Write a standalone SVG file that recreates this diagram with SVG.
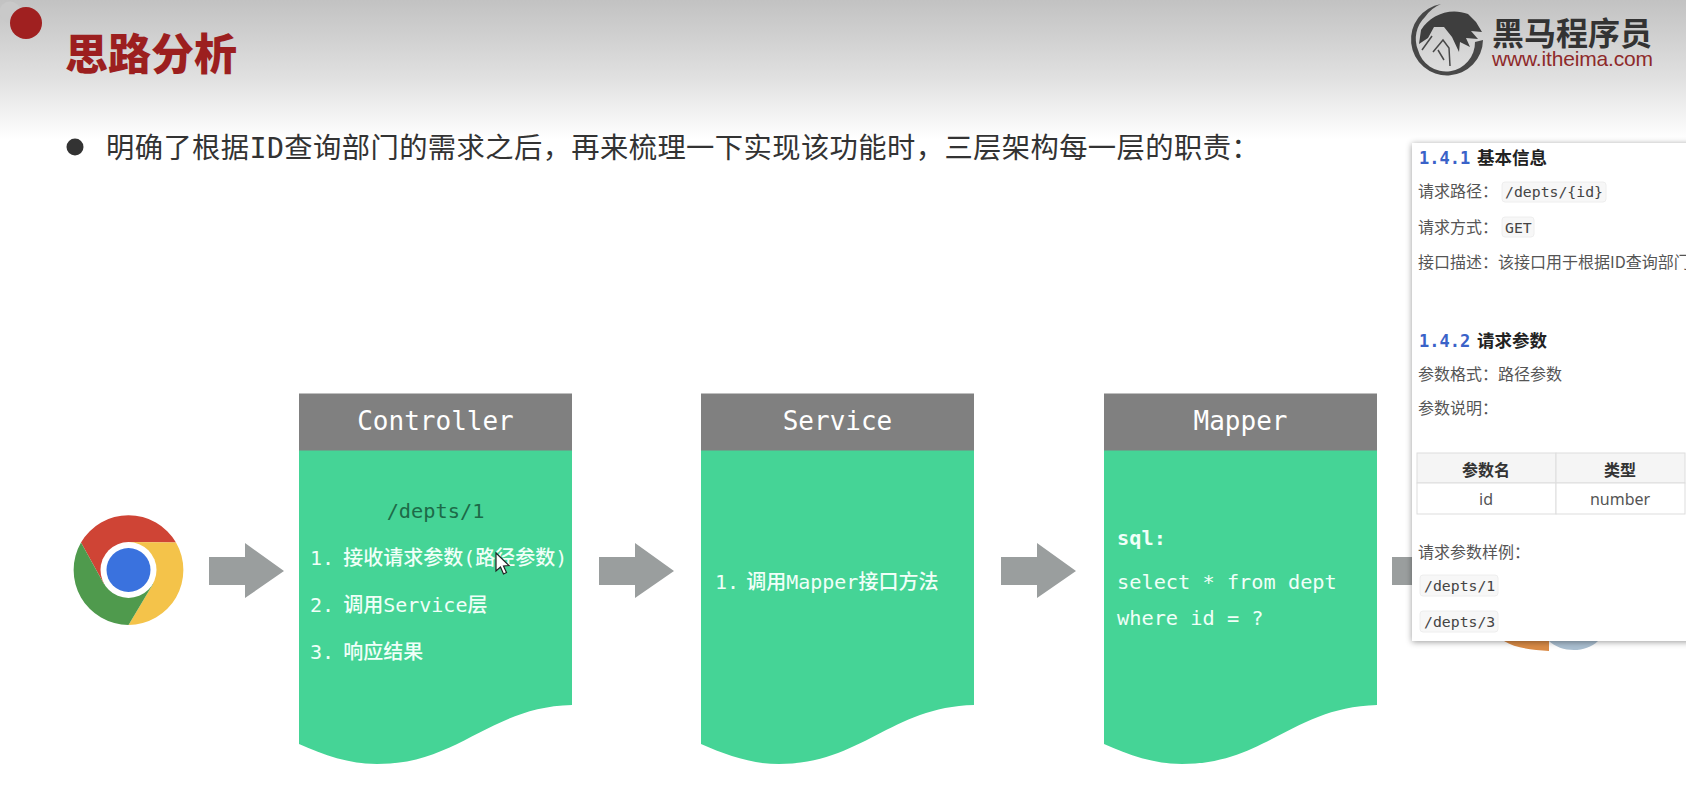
<svg xmlns="http://www.w3.org/2000/svg" xmlns:xlink="http://www.w3.org/1999/xlink" width="1686" height="812" viewBox="0 0 1686 812">
<style>
text{font-family:"DejaVu Sans Mono","Noto Sans CJK SC",monospace}
.cn{font-family:"Noto Sans CJK SC","Noto Sans",sans-serif}
.head{fill:#808080}
.body{fill:#45d496}
.title{fill:#fff;font-size:26px;text-anchor:middle}
.item{fill:#f0fff8;font-size:20px;font-weight:500}
.code-item{fill:#f0fff8;font-size:20.300px}
.arrow{fill:#9a9e9e}
.p{fill:#555;font-size:16px;font-family:"Noto Sans CJK SC","Noto Sans",sans-serif}
.h{fill:#222;font-size:17.500px;font-weight:700;font-family:"Noto Sans CJK SC",sans-serif}
.num{fill:#3a62c8;font-size:17px;font-weight:700}
.code{fill:#f7f7f7;stroke:#eeeeee}
.ct{fill:#444;font-size:14.800px}
.th{fill:#333;font-size:16px;font-weight:700;text-anchor:middle;font-family:"Noto Sans CJK SC",sans-serif}
.td{fill:#555;font-size:16px;text-anchor:middle;font-family:"Noto Sans",sans-serif}
.cell{stroke:#dddddd;stroke-width:1}
</style>
<defs>
<linearGradient id="bg" x1="0" y1="0" x2="0" y2="1">
<stop offset="0" stop-color="#c2c2c2"/><stop offset="0.55" stop-color="#e0e0e0"/><stop offset="1" stop-color="#ffffff"/>
</linearGradient>
<filter id="sh" x="-10%" y="-5%" width="120%" height="110%"><feDropShadow dx="0" dy="1" stdDeviation="3" flood-color="#000" flood-opacity="0.4"/></filter>
<path id="wave" d="M0 57H273V312C190 314 160 371 78 371C50 371 25 362 0 351Z"/>
<path id="arw" d="M0 14H36V0L75 28L36 55V42H0Z"/>
</defs>
<rect width="1686" height="812" fill="#fff"/>
<rect id="banner" width="1686" height="140" fill="url(#bg)"/>
<circle cx="10" cy="12" r="10.500" fill="#c9c9c9"/>
<circle cx="26" cy="23" r="16" fill="#a02020"/>
<text x="65" y="70" class="cn" style="font-size:43px;font-weight:900;fill:#9c1f1f">思路分析</text>
<circle cx="75" cy="147" r="8.500" fill="#333"/>
<text x="106" y="158" style="font-size:28.300px;letter-spacing:0.400px;fill:#333">明确了根据ID查询部门的需求之后&#xFF0C;再来梳理一下实现该功能时&#xFF0C;三层架构每一层的职责&#xFF1A;</text>

<g id="logo">
<path d="M1441 4A36 36 0 1 0 1483 40L1475 42A29 29 0 0 1 1418 50A30 30 0 0 1 1425 17A36 36 0 0 1 1441 4Z" fill="#484848"/>
<path d="M1421 30C1430 15 1450 7 1468 14L1476 22L1482 32L1471 31L1478 39L1466 38L1470 47L1460 42L1459 52L1452 37L1444 27L1434 27L1428 38L1419 44Z" fill="#3e3e3e"/>
<path d="M1422 50L1432 36M1433 52L1443 40L1449 48L1450 66M1438 50L1444 60" fill="none" stroke="#484848" stroke-width="1.500"/>
<text x="1492" y="45" class="cn" style="font-size:32px;font-weight:700;fill:#333">黑马程序员</text>
<text x="1492" y="66" textLength="161" style="font-family:'Liberation Sans',sans-serif;font-size:21px;fill:#8e2a2a">www.itheima.com</text>
</g>

<g id="connectors">
<use xlink:href="#arw" x="209" y="543" class="arrow"/>
<use xlink:href="#arw" x="599" y="543" class="arrow"/>
<use xlink:href="#arw" x="1001" y="543" class="arrow"/>
<use xlink:href="#arw" x="1392" y="543" class="arrow"/>
</g>

<g id="browser">
<path d="M81 542.500A55 55 0 0 1 176 542.500L128.500 542L104 584Z" fill="#cf4435"/>
<path d="M176 542.500A55 55 0 0 1 128.500 625L153 584L128.500 542Z" fill="#f4c34a"/>
<path d="M81 542.500A55 55 0 0 0 128.500 625L153 584L104 584Z" fill="#4f9a4d"/>
<circle cx="128.500" cy="570" r="28" fill="#fff"/>
<circle cx="128.500" cy="570" r="22" fill="#3a72de"/>
</g>

<g id="controller">
<use xlink:href="#wave" x="299" y="393" class="body"/>
<rect x="299" y="393.500" width="273" height="57" class="head"/>
<text x="435.500" y="430" class="title">Controller</text>
<text x="435.500" y="518" text-anchor="middle" style="font-size:20.300px;fill:#1d6a48">/depts/1</text>
<text x="310" y="565" class="item">1.<tspan dx="9"> </tspan><tspan dx="-12">接收请求参数(路径参数)</tspan></text>
<text x="310" y="612" class="item">2.<tspan dx="9"> </tspan><tspan dx="-12">调用Service层</tspan></text>
<text x="310" y="659" class="item">3.<tspan dx="9"> </tspan><tspan dx="-12">响应结果</tspan></text>
</g>

<g id="service">
<use xlink:href="#wave" x="701" y="393" class="body"/>
<rect x="701" y="393.500" width="273" height="57" class="head"/>
<text x="837.500" y="430" class="title">Service</text>
<text x="715" y="589" class="item">1.<tspan dx="8"> </tspan><tspan dx="-13">调用Mapper接口方法</tspan></text>
</g>

<g id="mapper">
<use xlink:href="#wave" x="1104" y="393" class="body"/>
<rect x="1104" y="393.500" width="273" height="57" class="head"/>
<text x="1240.500" y="430" class="title">Mapper</text>
<text x="1117" y="545" class="code-item" style="font-weight:700">sql:</text>
<text x="1117" y="589" class="code-item">select * from dept</text>
<text x="1117" y="625" class="code-item">where id = ?</text>
</g>

<g id="database">
<path d="M1504 641C1515 648 1532 650 1549 651V641Z" fill="#d98a45"/>
<path d="M1549 641C1560 652 1585 654 1598 641Z" fill="#a9bed0"/>
</g>

<g id="cursor">
<path d="M496 553V571L500.500 567L503.500 574L506.500 572.500L503.500 566L509 565.500Z" fill="#fff" stroke="#222" stroke-width="1.200"/>
</g>

<g id="api-panel">
<rect x="1412" y="143" width="284" height="498" fill="#fff" filter="url(#sh)"/>
<text x="1419" y="164" class="num">1.4.1</text>
<text x="1477" y="164" class="h">基本信息</text>
<text x="1418" y="197" class="p">请求路径&#xFF1A;</text>
<rect x="1502" y="182" width="104" height="20" rx="3" class="code"/>
<text x="1505" y="197" class="ct">/depts/{id}</text>
<text x="1418" y="233" class="p">请求方式&#xFF1A;</text>
<rect x="1502" y="217" width="32" height="20" rx="3" class="code"/>
<text x="1505" y="233" class="ct">GET</text>
<text x="1418" y="268" class="p">接口描述&#xFF1A;该接口用于根据ID查询部门</text>
<text x="1419" y="347" class="num">1.4.2</text>
<text x="1477" y="347" class="h">请求参数</text>
<text x="1418" y="380" class="p">参数格式&#xFF1A;路径参数</text>
<text x="1418" y="414" class="p">参数说明&#xFF1A;</text>
<rect x="1417" y="453" width="139" height="30" fill="#f5f5f5" class="cell"/>
<rect x="1556" y="453" width="129" height="30" fill="#f5f5f5" class="cell"/>
<rect x="1417" y="483" width="139" height="31" fill="#fff" class="cell"/>
<rect x="1556" y="483" width="129" height="31" fill="#fff" class="cell"/>
<text x="1486" y="476" class="th">参数名</text>
<text x="1620" y="476" class="th">类型</text>
<text x="1486" y="505" class="td">id</text>
<text x="1620" y="505" class="td">number</text>
<text x="1418" y="558" class="p">请求参数样例&#xFF1A;</text>
<rect x="1420" y="575" width="78" height="21" rx="3" class="code"/>
<text x="1424" y="591" class="ct">/depts/1</text>
<rect x="1420" y="611" width="78" height="21" rx="3" class="code"/>
<text x="1424" y="627" class="ct">/depts/3</text>
</g>
</svg>
